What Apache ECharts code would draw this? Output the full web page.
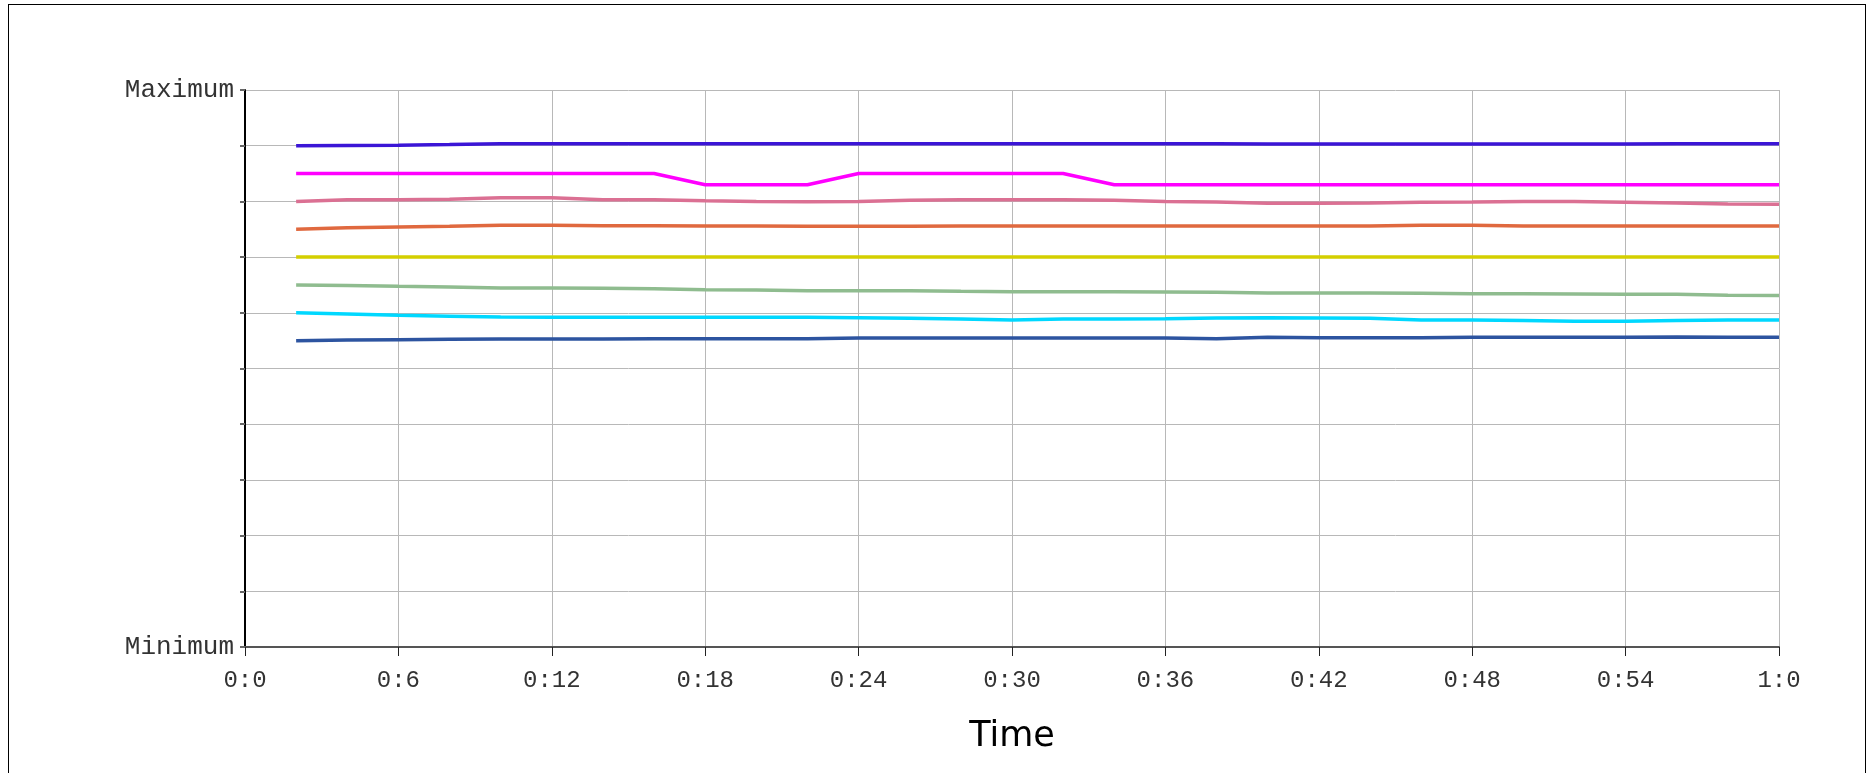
<!DOCTYPE html>
<html>
<head>
<meta charset="utf-8">
<script src="https://cdn.jsdelivr.net/npm/echarts@6/dist/echarts.min.js"></script>
<style>
  html, body { margin: 0; padding: 0; background: #fff; overflow: hidden; }
  #frame { position: absolute; left: 8px; top: 4px; width: 1858px; height: 820px; border: 1px solid #000; box-sizing: border-box; }
  #chart { position: absolute; left: 0; top: 0; width: 1870px; height: 773px; }
</style>
</head>
<body>
<div id="frame"></div>
<div id="chart"></div>
<script>
// Time in minutes
const times = [2,4,6,8,10,12,14,16,18,20,22,24,26,28,30,32,34,36,38,40,42,44,46,48,50,52,54,56,58,60];
const xTickLabels = ['0:0','0:6','0:12','0:18','0:24','0:30','0:36','0:42','0:48','0:54','1:0'];
const yTickLabels = ['Minimum','','','','','','','','','','Maximum'];

const seriesNames = ['S1','S2','S3','S4','S5','S6','S7','S8'];
const seriesColors = ['#3b15d6','#ff00ff','#db7093','#e0693f','#d4cf00','#8fbc8f','#00d8ff','#2d54a0'];

const s1 = [9.00,9.005,9.01,9.02,9.035,9.035,9.035,9.035,9.035,9.035,9.035,9.035,9.035,9.035,9.035,9.035,9.035,9.035,9.035,9.03,9.03,9.03,9.03,9.03,9.03,9.03,9.03,9.035,9.035,9.035];
const s2 = [8.5,8.5,8.5,8.5,8.5,8.5,8.5,8.5,8.3,8.3,8.3,8.5,8.5,8.5,8.5,8.5,8.3,8.3,8.3,8.3,8.3,8.3,8.3,8.3,8.3,8.3,8.3,8.3,8.3,8.3];
const s3 = [8.0,8.03,8.03,8.04,8.065,8.065,8.03,8.03,8.01,8.0,7.995,8.0,8.02,8.03,8.03,8.03,8.02,8.0,7.99,7.965,7.965,7.97,7.985,7.99,8.0,8.0,7.985,7.97,7.955,7.95];
const s4 = [7.5,7.528,7.54,7.553,7.57,7.57,7.565,7.565,7.56,7.56,7.553,7.553,7.553,7.56,7.56,7.56,7.56,7.56,7.56,7.56,7.56,7.56,7.57,7.57,7.56,7.56,7.56,7.56,7.56,7.56];
const s5 = [7.0,7.0,7.0,7.0,7.0,7.0,7.0,7.0,7.0,7.0,7.0,7.0,7.0,7.0,7.0,7.0,7.0,7.0,7.0,7.0,7.0,7.0,7.0,7.0,7.0,7.0,7.0,7.0,7.0,7.0];
const s6 = [6.5,6.49,6.476,6.465,6.445,6.445,6.44,6.43,6.415,6.41,6.397,6.397,6.397,6.385,6.38,6.38,6.38,6.374,6.368,6.356,6.356,6.356,6.35,6.344,6.344,6.338,6.332,6.332,6.314,6.31];
const s7 = [6.0,5.978,5.955,5.94,5.925,5.92,5.92,5.92,5.92,5.92,5.92,5.91,5.9,5.89,5.87,5.89,5.89,5.895,5.905,5.91,5.905,5.9,5.87,5.87,5.86,5.85,5.85,5.86,5.87,5.87];
const s8 = [5.5,5.51,5.517,5.523,5.529,5.529,5.529,5.535,5.535,5.535,5.535,5.547,5.547,5.547,5.547,5.547,5.547,5.547,5.535,5.559,5.553,5.553,5.553,5.559,5.559,5.559,5.559,5.565,5.559,5.559];

const allValues = [s1,s2,s3,s4,s5,s6,s7,s8];

const chart = echarts.init(document.getElementById('chart'), null, { renderer: 'canvas' });
const monoFont = "'Liberation Mono', 'Courier New', monospace";

chart.setOption({
  animation: false,
  backgroundColor: 'transparent',
  grid: { left: 245, right: 91, top: 90, bottom: 126, containLabel: false },
  xAxis: {
    type: 'value', min: 0, max: 60, interval: 6,
    name: 'Time', nameLocation: 'middle', nameGap: 72,
    nameTextStyle: { fontFamily: 'DejaVu Sans', fontSize: 35, color: '#000' },
    axisLine: { show: true, onZero: false, lineStyle: { color: '#555', width: 2 } },
    axisTick: { show: true, inside: false, length: 9, lineStyle: { color: '#222', width: 1 } },
    axisLabel: {
      show: true, margin: 22, fontFamily: monoFont, fontSize: 24, color: '#333',
      formatter: function (v) { return xTickLabels[Math.round(v / 6)]; }
    },
    splitLine: { show: true, lineStyle: { color: '#b8b8b8', width: 1 } }
  },
  yAxis: {
    type: 'value', min: 0, max: 10, interval: 1,
    axisLine: { show: true, onZero: false, lineStyle: { color: '#000', width: 2 } },
    axisTick: { show: true, inside: false, length: 5, lineStyle: { color: '#666', width: 2 } },
    axisLabel: {
      show: true, margin: 11, fontFamily: monoFont, fontSize: 26, color: '#333',
      formatter: function (v) { return yTickLabels[Math.round(v)]; }
    },
    splitLine: { show: true, lineStyle: { color: '#b8b8b8', width: 1 } }
  },
  series: allValues.map(function (vals, i) {
    return {
      name: seriesNames[i],
      type: 'line',
      showSymbol: false,
      symbol: 'none',
      data: times.map(function (t, j) { return [t, vals[j]]; }),
      lineStyle: { color: seriesColors[i], width: 3.5 },
      itemStyle: { color: seriesColors[i] },
      z: 10 - i
    };
  })
});
</script>
</body>
</html>
